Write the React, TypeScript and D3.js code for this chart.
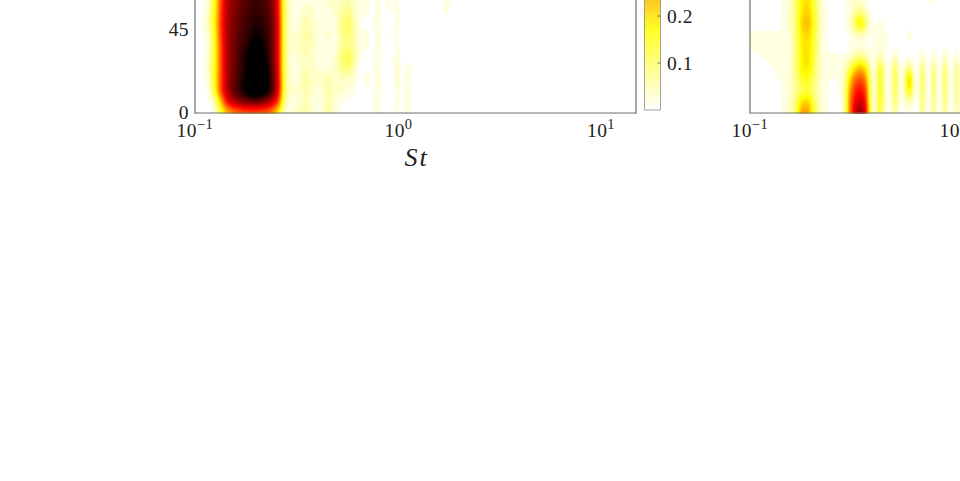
import React, { useMemo } from "react";
import * as d3 from "d3";

const angles = [0, 6, 12, 18, 24, 30, 36, 42, 48, 54, 60];
const yTicks = [0, 45];
const xTicks = [
  { st: 0.1, exp: "−1" },
  { st: 1, exp: "0" },
  { st: 10, exp: "1" },
];
const cbTicks = [0.1, 0.2];

// Strouhal numbers of the left map's columns
const leftSt = [
  0.106, 0.112, 0.117, 0.123, 0.128, 0.134, 0.144, 0.154, 0.177, 0.202, 0.229, 0.245, 0.257, 0.266, 0.275, 0.288,
  0.308, 0.33, 0.354, 0.378, 0.414, 0.454, 0.497, 0.531, 0.57, 0.61, 0.653,
  0.708, 0.75, 0.798, 0.85, 0.906, 0.948, 0.99, 1.047, 1.125, 1.175, 1.26, 1.63, 1.71, 1.95, 15,
];
const leftMap = [
  [0,0,0,.005,.03,.1,.2,.25,.3,.3,.28,.22,.15,.08,.03,.015, .03,.04,.06,.03,.008,.07,.015,0,0,0,0, 0,0,.025,0,0,0,.012,0,.018,0,0,0,0,0,0],
  [0,0,.005,.02,.08,.22,.42,.5,.57,.58,.53,.45,.36,.2,.08,.025, .008,.03,.04,.02,.008,.055,.015,.008,0,0,0, 0,0,.025,0,0,0,.018,0,.025,0,0,.006,0,0,0],
  [0,0,.015,.09,.2,.35,.5,.58,.68,.76,.68,.57,.45,.28,.12,.035, .03,.025,.055,.03,.015,.055,.03,.03,.02,.012,0, 0,0,.03,0,0,0,.03,0,.025,0,0,.006,0,0,0],
  [0,.005,.03,.11,.21,.34,.5,.57,.67,.78,.67,.56,.45,.26,.12,.035, .012,.03,.07,.035,.03,.055,.03,.035,.03,.02,0, .025,0,.03,0,0,0,.035,0,.025,0,0,.006,0,0,0],
  [0,.01,.04,.12,.2,.33,.5,.56,.65,.78,.66,.55,.44,.25,.12,.04, .008,.03,.04,.03,.02,.015,.03,.07,.095,.04,0, 0,0,.025,0,.012,0,.035,0,.015,.012,0,.005,0,0,0],
  [0,.005,.03,.11,.2,.33,.5,.56,.65,.76,.64,.54,.44,.25,.11,.035, .008,.035,.04,.03,.015,.008,.03,.095,.125,.07,.008, 0,0,.025,0,0,0,.03,0,0,0,0,0,0,0,0],
  [0,.005,.02,.1,.2,.34,.5,.56,.63,.71,.63,.54,.44,.25,.11,.035, .03,.035,.055,.04,.015,.008,.02,.055,.08,.055,.015, .012,0,.02,0,0,0,.012,0,.008,.008,0,0,0,0,0],
  [0,.01,.035,.11,.21,.35,.5,.55,.62,.67,.62,.54,.44,.26,.12,.035, .02,.035,.065,.04,.015,.035,.015,.07,.095,.055,.008, .015,0,.025,0,.015,0,.015,0,.005,0,0,0,0,0,0],
  [0,.015,.05,.13,.22,.36,.51,.55,.61,.65,.61,.54,.44,.25,.12,.035, .015,.03,.055,.035,.015,.008,.02,.075,.105,.055,.008, 0,0,.025,0,0,0,.015,0,0,0,0,.005,0,0,0],
  [0,.01,.04,.12,.21,.35,.5,.54,.6,.63,.6,.53,.43,.25,.12,.035, .015,.02,.035,.03,.012,.02,.03,.055,.08,.04,.008, .015,0,.025,0,.012,0,.025,0,0,0,0,.004,.012,0,0],
  [0,.005,.03,.11,.2,.34,.49,.53,.59,.62,.59,.52,.42,.24,.11,.035, .015,.015,.02,.015,.008,.03,.02,.04,.055,.035,.008, .018,0,.015,0,.018,0,.012,0,0,0,0,0,.015,0,0],
];

// Strouhal numbers of the right map's columns
const rightSt = [
  0.1023, 0.1146, 0.1284, 0.1439, 0.1576, 0.1688, 0.1808, 0.1936, 0.2073, 0.222, 0.2377, 0.2572, 0.2784, 0.2947, 0.312, 0.3303,
  0.3497, 0.3702, 0.3919, 0.4102, 0.4391, 0.4702, 0.492, 0.5208, 0.5513, 0.577, 0.6107, 0.6464, 0.6766, 0.7082, 0.7497, 0.7758,
  0.8028, 0.8498, 0.8794, 0.91, 0.9743, 1.0082, 1.0433, 1.0918, 1.2226, 15,
];
const rightMap = [
  [.01,0,0,.005,.03,.1,.28,.27,.12,.03,.01,0,.005,.04,.3,.47,.55,.47,.1,.005,.13,.005,.005,.06,0,0,0,0,0,.08,0,0,.08,0,0,.08,0,0,.06,0,0,0],
  [.003,0,0,.005,.03,.09,.2,.22,.1,.03,.01,0,.005,.05,.3,.43,.48,.42,.09,.005,.16,.005,.01,.1,.005,.01,.05,.005,0,.1,0,0,.1,0,0,.1,0,0,.09,0,0,0],
  [0,0,0,.005,.03,.06,.1,.12,.07,.03,.012,0,.01,.05,.26,.38,.42,.37,.08,.005,.16,.005,.01,.12,.005,.03,.2,.02,0,.11,0,0,.11,0,0,.11,0,0,.1,0,0,0],
  [0,0,.005,.01,.03,.07,.14,.15,.09,.03,.012,.006,.01,.05,.2,.32,.35,.31,.07,.005,.16,.005,.01,.13,.005,.03,.26,.02,0,.12,0,0,.12,0,0,.12,0,0,.11,0,0,0],
  [0,.005,.008,.01,.025,.08,.18,.19,.11,.03,.015,.012,.012,.04,.1,.2,.24,.2,.05,.008,.15,.005,.01,.12,.002,.015,.1,.005,0,.1,0,0,.1,0,0,.1,0,0,.1,0,0,0],
  [.002,.008,.01,.012,.02,.08,.18,.2,.12,.03,.012,.012,.01,.01,.02,.05,.08,.05,.015,.008,.05,.002,.003,.03,0,0,0,0,0,.03,0,0,.03,0,0,.04,0,0,.03,0,0,0],
  [.012,.012,.012,.012,.02,.08,.18,.2,.12,.03,.006,0,0,0,.008,.012,.012,.012,0,.012,.014,.012,0,0,0,0,0,0,0,0,0,0,0,0,0,0,0,0,0,0,0,0],
  [.012,.012,.012,.01,.025,.09,.19,.21,.13,.04,.006,0,0,0,.01,.025,.03,.025,.005,.012,.015,.012,0,0,0,0,.02,0,0,0,.012,0,0,0,0,.012,0,0,0,0,0,0],
  [0,0,0,.005,.03,.09,.22,.25,.14,.04,.008,0,0,.005,.03,.12,.22,.12,.02,.005,.012,.005,0,0,0,0,0,0,0,0,0,0,0,0,0,0,0,0,0,0,0,0],
  [0,0,0,.005,.03,.09,.19,.22,.13,.04,.008,0,0,.004,.02,.05,.08,.04,.01,0,.003,0,0,0,0,0,0,0,0,0,0,0,0,0,0,0,0,0,0,0,0,0],
  [0,0,0,.005,.03,.09,.18,.2,.12,.03,.006,0,0,.004,.02,.04,.025,.01,0,0,0,0,0,0,0,0,0,0,0,0,0,.012,.012,0,0,0,0,0,0,0,0,0],
];

const W = 441;
const H = 113;
const AXIS = "#6e6e6e";
const FONT = "'Liberation Serif', serif";
const cmap = d3
  .scaleLinear<string>()
  .domain([0, 0.17, 0.425, 0.68])
  .range(["#ffffff", "#ffff00", "#ff0000", "#000000"])
  .clamp(true);
const levels = d3.range(0.008, 0.76, 0.016);

const xScale = d3.scaleLog().domain([0.1, 10 ** (W / 202.5 - 1)]).range([0, W]);
const yScale = d3.scaleLinear().domain([0, 45]).range([H, 29]);
const cbScale = d3.scaleLinear().domain([0, 0.1]).range([110, 63]);

function sample(st: number[], grid: number[][]) {
  const xs = st.map((s) => xScale(s));
  const ys = angles.map((a) => yScale(a));
  const byX = d3.bisector((v: number) => v);
  const out = new Float64Array(W * H);
  for (let j = 0; j < H; j++) {
    const py = j + 0.5;
    let r = 0;
    while (r < ys.length - 2 && ys[r + 1] > py) r++;
    const ty = Math.max(0, Math.min(1, (ys[r] - py) / (ys[r] - ys[r + 1])));
    for (let i = 0; i < W; i++) {
      const px = i + 0.5;
      let c = byX.right(xs, px) - 1;
      c = Math.max(0, Math.min(xs.length - 2, c));
      const tx = Math.max(0, Math.min(1, (px - xs[c]) / (xs[c + 1] - xs[c])));
      const a = grid[r][c] * (1 - tx) + grid[r][c + 1] * tx;
      const b = grid[r + 1][c] * (1 - tx) + grid[r + 1][c + 1] * tx;
      out[j * W + i] = a * (1 - ty) + b * ty;
    }
  }
  d3.blur2({ data: out, width: W, height: H }, 0.7, 3);
  return out;
}

function HeatMap({ st, grid, x }: { st: number[]; grid: number[][]; x: number }) {
  const bands = useMemo(() => {
    const values = sample(st, grid);
    return d3.contours().size([W, H]).smooth(true).thresholds(levels)(values as unknown as number[]);
  }, [st, grid]);
  const path = d3.geoPath();
  return (
    <g transform={`translate(${x},0)`}>
      {bands.map((b) => (
        <path key={b.value} d={path(b) ?? ""} fill={cmap(b.value + 0.012)} stroke={cmap(b.value + 0.012)} strokeWidth={0.3} />
      ))}
    </g>
  );
}

function Axes({ x, frame }: { x: number; frame: boolean }) {
  return (
    <g transform={`translate(${x},0)`} fontFamily={FONT} fill="#222">
      <line x1={0} x2={0} y1={0} y2={H + 0.5} stroke={AXIS} strokeWidth={1.2} />
      <line x1={0} x2={W} y1={H} y2={H} stroke={AXIS} strokeWidth={1.2} />
      {frame && <line x1={W} x2={W} y1={0} y2={H + 0.5} stroke={AXIS} strokeWidth={1.2} />}
      {xTicks.map((t) => (
        <text key={t.st} x={xScale(t.st) - (t.exp === "−1" ? 18.5 : 13)} y={137} fontSize={19.5} letterSpacing={0.4}>
          10
          <tspan dy={-8} fontSize={14.5}>{t.exp}</tspan>
        </text>
      ))}
    </g>
  );
}

export default function App() {
  const cbRows = d3.range(0, 111);
  return (
    <svg width={960} height={481} style={{ position: "absolute", left: 0, top: 0, background: "#fff" }}>
      <HeatMap st={leftSt} grid={leftMap} x={195} />
      <HeatMap st={rightSt} grid={rightMap} x={750} />
      <Axes x={195} frame={true} />
      <Axes x={750} frame={false} />
      {yTicks.map((t) => (
        <text key={t} x={189} y={yScale(t) + (t === 0 ? 5.5 : 6.5)} textAnchor="end" fontFamily={FONT} fontSize={19.5} letterSpacing={0.4} fill="#222">
          {t}
        </text>
      ))}
      <text x={404.5} y={166} fontFamily={FONT} fontStyle="italic" fontSize={26} letterSpacing={2} fill="#222">St</text>
      {cbRows.map((y) => (
        <rect key={y} x={644.5} y={y - 0.5} width={16} height={1.2} fill={cmap(cbScale.invert(y))} />
      ))}
      <path d="M644.5,0V110H660.5V0" fill="none" stroke="#8a8a8a" strokeWidth={0.8} />
      {cbTicks.map((t) => (
        <g key={t}>
          <line x1={657.5} x2={660.5} y1={cbScale(t)} y2={cbScale(t)} stroke="#555" strokeWidth={0.8} />
          <text x={667} y={cbScale(t) + 6.5} fontFamily={FONT} fontSize={19.5} letterSpacing={0.6} fill="#222">
            {t.toFixed(1)}
          </text>
        </g>
      ))}
    </svg>
  );
}
